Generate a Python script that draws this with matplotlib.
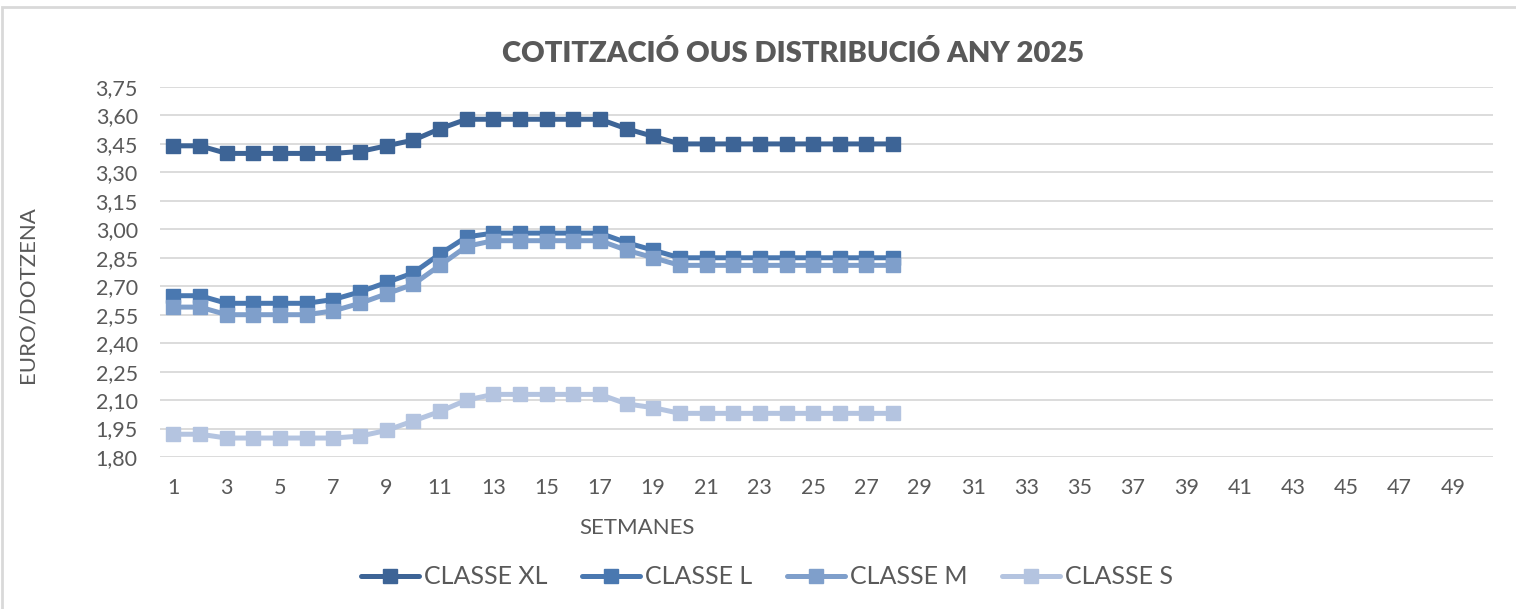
import matplotlib
matplotlib.use("Agg")
import matplotlib.pyplot as plt
from matplotlib.patches import Rectangle
from matplotlib.ticker import FuncFormatter

# weekly prices, euro per dozen (weeks 1-28 of 2025)
weeks = list(range(1, 29))
classe_xl = [3.44, 3.44, 3.40, 3.40, 3.40, 3.40, 3.40, 3.41, 3.44, 3.47,
             3.53, 3.58, 3.58, 3.58, 3.58, 3.58, 3.58, 3.53, 3.49, 3.45,
             3.45, 3.45, 3.45, 3.45, 3.45, 3.45, 3.45, 3.45]
classe_l = [2.65, 2.65, 2.61, 2.61, 2.61, 2.61, 2.63, 2.67, 2.72, 2.77,
            2.87, 2.96, 2.98, 2.98, 2.98, 2.98, 2.98, 2.93, 2.89, 2.85,
            2.85, 2.85, 2.85, 2.85, 2.85, 2.85, 2.85, 2.85]
classe_m = [2.59, 2.59, 2.55, 2.55, 2.55, 2.55, 2.57, 2.61, 2.66, 2.71,
            2.81, 2.91, 2.94, 2.94, 2.94, 2.94, 2.94, 2.89, 2.85, 2.81,
            2.81, 2.81, 2.81, 2.81, 2.81, 2.81, 2.81, 2.81]
classe_s = [1.92, 1.92, 1.90, 1.90, 1.90, 1.90, 1.90, 1.91, 1.94, 1.99,
            2.04, 2.10, 2.13, 2.13, 2.13, 2.13, 2.13, 2.08, 2.06, 2.03,
            2.03, 2.03, 2.03, 2.03, 2.03, 2.03, 2.03, 2.03]

series = [
    ("CLASSE XL", classe_xl, "#3D6496"),
    ("CLASSE L", classe_l, "#4A78B0"),
    ("CLASSE M", classe_m, "#7F9FCB"),
    ("CLASSE S", classe_s, "#B4C4E0"),
]

plt.rcParams["font.family"] = ["Lato", "DejaVu Sans"]
grey = "#595959"

fig = plt.figure(figsize=(15.16, 6.09), dpi=100)
ax = fig.add_axes([160 / 1516, 1 - 457 / 609, 1333 / 1516, 370 / 609])

for name, vals, col in series:
    ax.plot(weeks, vals, color=col, lw=3.6, marker="s", ms=10,
            mec=col, mfc=col, label=name, solid_capstyle="round")

ax.set_xlim(0.5, 50.5)
ax.set_ylim(1.80, 3.75)
ax.set_yticks([1.80 + 0.15 * i for i in range(14)])
ax.yaxis.set_major_formatter(FuncFormatter(lambda v, p: f"{v:.2f}".replace(".", ",")))
ax.set_xticks(range(1, 50, 2))
ax.grid(axis="y", color="#D9D9D9", lw=1.3)
ax.set_axisbelow(True)
for s in ax.spines.values():
    s.set_visible(False)
ax.tick_params(length=0, labelsize=15.5, colors=grey, pad=16)
ax.tick_params(axis="x", pad=15)

ax.set_ylabel("EURO/DOTZENA", fontsize=16, color=grey, labelpad=0)
ax.yaxis.set_label_coords(-122 / 1333, 0.438)

fig.text(637 / 1516, 1 - 528 / 609, "SETMANES", fontsize=16, color=grey,
         ha="center", va="center")
fig.text(793 / 1516, 1 - 53 / 609, "COTITZACIÓ OUS DISTRIBUCIÓ ANY 2025",
         fontsize=21, fontweight="heavy", color=grey, ha="center", va="center")

fig.legend(loc="center", bbox_to_anchor=(767 / 1516, 1 - 577 / 609), ncol=4,
           frameon=False, fontsize=18, labelcolor=grey, handlelength=2.3,
           handletextpad=0.2, columnspacing=1.4)

fig.patches.append(Rectangle((2 / 1516, -0.05), 1.1, 1.05 - 7 / 609,
                             transform=fig.transFigure, fill=False,
                             ec="#D9D9D9", lw=2))

fig.savefig("out.png", dpi=100)
